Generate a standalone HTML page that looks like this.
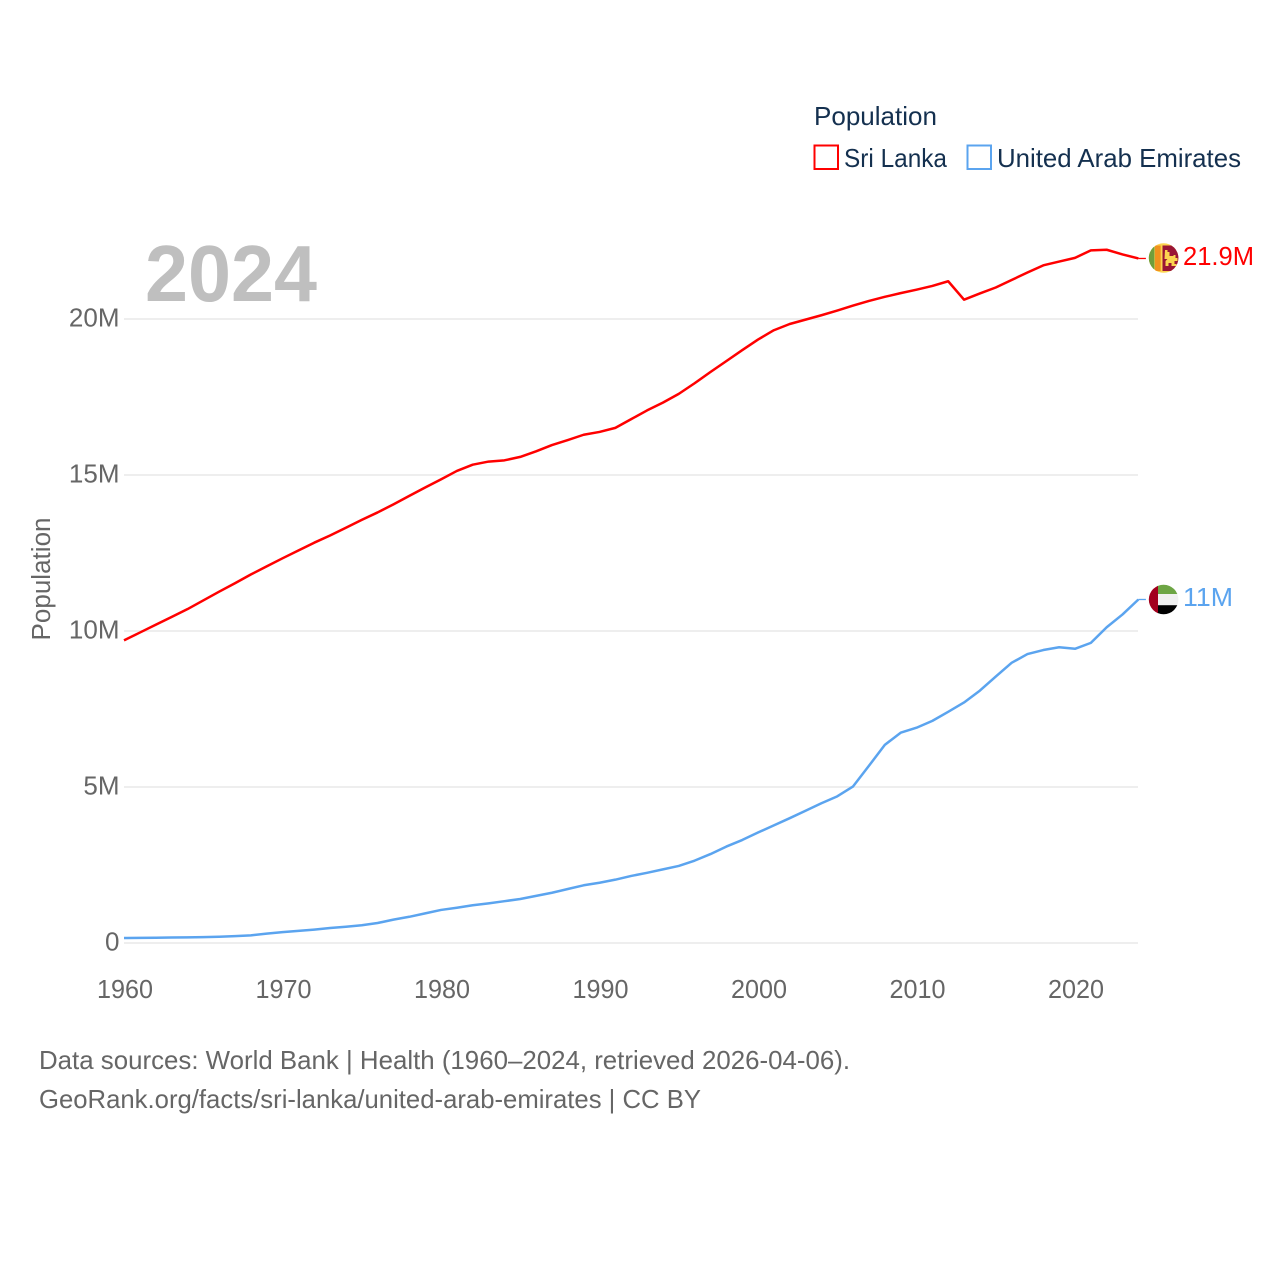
<!DOCTYPE html>
<html lang="en">
<head>
<meta charset="utf-8">
<title>Sri Lanka vs United Arab Emirates population</title>
<style>
html,body{margin:0;padding:0;background:#fff;}
svg{display:block;}
text{font-family:"Liberation Sans",sans-serif;}
</style>
</head>
<body>
<svg id="chart" xmlns="http://www.w3.org/2000/svg" width="1280" height="1280" viewBox="0 0 1280 1280">
  <defs>
    <clipPath id="flag-clip-lk"><circle cx="1163.6" cy="258" r="14.8"/></clipPath>
    <clipPath id="flag-clip-ae"><circle cx="1163.6" cy="599.5" r="14.8"/></clipPath>
  </defs>
  <text x="145" y="301" font-size="80" font-weight="bold" fill="#bfbfbf" textLength="172" lengthAdjust="spacingAndGlyphs">2024</text>
  <g id="grid"></g>
  <g id="yticks"></g>
  <g id="xticks"></g>
  <text transform="translate(50,579) rotate(-90)" text-anchor="middle" font-size="25.5" fill="#666666" textLength="123" lengthAdjust="spacingAndGlyphs">Population</text>
  <g id="series"></g>

  <g clip-path="url(#flag-clip-lk)">
    <rect x="1148" y="242" width="32" height="32" fill="#fcd450"/>
    <rect x="1148" y="245.5" width="6.5" height="25.5" fill="#6f9e3c"/>
    <rect x="1155" y="245.5" width="5.7" height="25.5" fill="#f0921e"/>
    <rect x="1162.5" y="245.5" width="17" height="25.5" fill="#9a1535"/>
    <path d="M1165 250h2.5v2h2v4h4v-1h2v3h2v3h-3v3h2v2h-5v-3h-3v3h-3v-5l2-2h-3z" fill="#fcd450"/>
  </g>
  <text x="1183" y="265" font-size="26" fill="#ff0000" textLength="71" lengthAdjust="spacingAndGlyphs">21.9M</text>

  <g clip-path="url(#flag-clip-ae)">
    <rect x="1157" y="584" width="23" height="10" fill="#6da544"/>
    <rect x="1157" y="594" width="23" height="11.2" fill="#f0f0f0"/>
    <rect x="1157" y="605.2" width="23" height="10" fill="#000000"/>
    <rect x="1148" y="584" width="10" height="31" fill="#a2001d"/>
  </g>
  <text x="1183" y="606" font-size="26" fill="#5ba4ef" textLength="50" lengthAdjust="spacingAndGlyphs">11M</text>

  <text x="814" y="125" font-size="26" fill="#14304f" textLength="123" lengthAdjust="spacingAndGlyphs">Population</text>
  <g>
    <rect x="814.5" y="145.5" width="23.5" height="23.5" fill="#fff" stroke="#ff0000" stroke-width="2"/>
    <text x="844" y="167" font-size="26" fill="#14304f" textLength="103" lengthAdjust="spacingAndGlyphs">Sri Lanka</text>
  </g>
  <g>
    <rect x="967.5" y="145.5" width="23.5" height="23.5" fill="#fff" stroke="#5ba4ef" stroke-width="2"/>
    <text x="997" y="167" font-size="26" fill="#14304f" textLength="244" lengthAdjust="spacingAndGlyphs">United Arab Emirates</text>
  </g>

  <text x="39" y="1069" font-size="26" fill="#666666" textLength="811" lengthAdjust="spacingAndGlyphs">Data sources: World Bank | Health (1960–2024, retrieved 2026-04-06).</text>
  <text x="39" y="1108" font-size="26" fill="#666666" textLength="662" lengthAdjust="spacingAndGlyphs">GeoRank.org/facts/sri-lanka/united-arab-emirates | CC BY</text>
</svg>
<script>
const years = [1960,1961,1962,1963,1964,1965,1966,1967,1968,1969,1970,1971,1972,1973,1974,1975,1976,1977,1978,1979,1980,1981,1982,1983,1984,1985,1986,1987,1988,1989,1990,1991,1992,1993,1994,1995,1996,1997,1998,1999,2000,2001,2002,2003,2004,2005,2006,2007,2008,2009,2010,2011,2012,2013,2014,2015,2016,2017,2018,2019,2020,2021,2022,2023,2024];
const sriLankaValues = [9.70,9.95,10.2,10.45,10.70,10.98,11.26,11.53,11.81,12.07,12.33,12.58,12.83,13.06,13.31,13.56,13.8,14.06,14.33,14.6,14.86,15.13,15.33,15.43,15.47,15.58,15.76,15.96,16.12,16.29,16.38,16.51,16.79,17.07,17.32,17.6,17.94,18.3,18.65,19.0,19.34,19.64,19.84,19.98,20.12,20.27,20.43,20.58,20.71,20.83,20.94,21.06,21.21,20.62,20.82,21.01,21.25,21.49,21.72,21.84,21.96,22.2,22.22,22.07,21.94];
const uaeValues = [0.16,0.165,0.17,0.175,0.18,0.19,0.2,0.22,0.245,0.3,0.35,0.39,0.43,0.48,0.52,0.57,0.64,0.75,0.84,0.95,1.06,1.13,1.21,1.27,1.34,1.41,1.51,1.61,1.73,1.85,1.93,2.03,2.15,2.25,2.36,2.47,2.64,2.85,3.09,3.3,3.54,3.77,4.0,4.24,4.48,4.7,5.02,5.68,6.35,6.74,6.9,7.12,7.41,7.71,8.09,8.54,8.98,9.26,9.39,9.48,9.43,9.62,10.12,10.53,11.01];
const yTickValues = [0,5,10,15,20];
const yTickLabels = ['0','5M','10M','15M','20M'];
const xTickValues = [1960,1970,1980,1990,2000,2010,2020];

const NS = 'http://www.w3.org/2000/svg';
function xScale(year){ return 124 + (year - 1960) * 15.85; }
function yScale(value){ return 943 - value * 31.2; }

const grid = document.getElementById('grid');
const yticks = document.getElementById('yticks');
const xticks = document.getElementById('xticks');
const seriesGroup = document.getElementById('series');

yTickValues.forEach(function(v, i){
  const line = document.createElementNS(NS, 'line');
  
  
  line.setAttribute('x1', 124);
  line.setAttribute('x2', 1138);
  line.setAttribute('y1', yScale(v));
  line.setAttribute('y2', yScale(v));
  line.setAttribute('stroke', '#eeeeee');
  line.setAttribute('stroke-width', 2);
  grid.appendChild(line);
  const t = document.createElementNS(NS, 'text');
  
  
  t.setAttribute('x', 119.5);
  t.setAttribute('y', yScale(v) + 7.5);
  t.setAttribute('text-anchor', 'end');
  t.setAttribute('font-size', 26);
  t.setAttribute('fill', '#666666');
  t.textContent = yTickLabels[i];
  yticks.appendChild(t);
});

xTickValues.forEach(function(v){
  const t = document.createElementNS(NS, 'text');
  
  
  t.setAttribute('x', xScale(v) + 1);
  t.setAttribute('y', 998);
  t.setAttribute('text-anchor', 'middle');
  t.setAttribute('font-size', 26);
  t.setAttribute('textLength', 56);
  t.setAttribute('lengthAdjust', 'spacingAndGlyphs');
  t.setAttribute('fill', '#666666');
  t.textContent = String(v);
  xticks.appendChild(t);
});

function drawSeries(values, color, name){
  let d = '';
  values.forEach(function(v, i){
    d += (i ? 'L' : 'M') + xScale(years[i]).toFixed(2) + ' ' + yScale(v).toFixed(2);
  });
  const p = document.createElementNS(NS, 'path');
  
  
  p.setAttribute('d', d);
  p.setAttribute('fill', 'none');
  p.setAttribute('stroke', color);
  p.setAttribute('stroke-width', 2.5);
  p.setAttribute('stroke-linejoin', 'round');
  seriesGroup.appendChild(p);
  const lastIndex = values.length - 1;
  const c = document.createElementNS(NS, 'line');
  
  
  c.setAttribute('x1', xScale(years[lastIndex]));
  c.setAttribute('x2', xScale(years[lastIndex]) + 7.5);
  c.setAttribute('y1', yScale(values[lastIndex]));
  c.setAttribute('y2', yScale(values[lastIndex]));
  c.setAttribute('stroke', color);
  c.setAttribute('stroke-width', 1.3);
  seriesGroup.appendChild(c);
}
drawSeries(sriLankaValues, '#ff0000', 'sri-lanka-line');
drawSeries(uaeValues, '#5ba4ef', 'united-arab-emirates-line');
</script>
</body>
</html>
